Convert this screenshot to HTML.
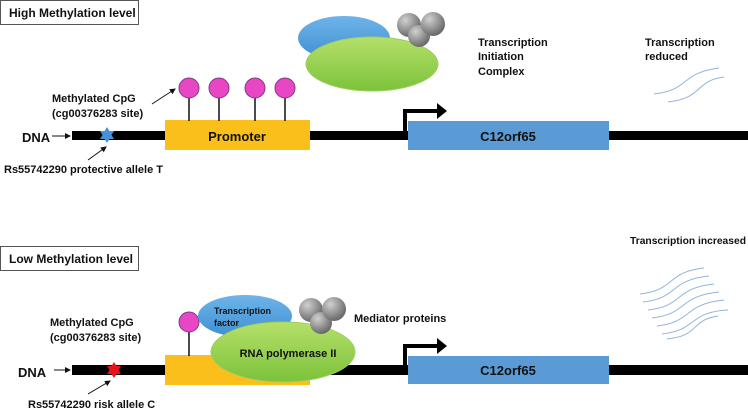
<!DOCTYPE html>
<html><head><meta charset="utf-8"><style>
body{margin:0;background:#fff;}
svg text{font-family:"Liberation Sans",sans-serif;font-weight:bold;fill:#111;}
</style></head><body>
<svg width="748" height="411" viewBox="0 0 748 411" xmlns="http://www.w3.org/2000/svg">
<defs>
<marker id="ah" markerWidth="6" markerHeight="6" refX="5" refY="3" orient="auto"><path d="M0,0 L6,3 L0,6z" fill="#111"/></marker>
<radialGradient id="gs" cx="0.35" cy="0.3" r="0.7"><stop offset="0" stop-color="#d0d0d0"/><stop offset="1" stop-color="#6a6a6a"/></radialGradient>
<linearGradient id="gg" x1="0" y1="0" x2="0" y2="1"><stop offset="0" stop-color="#b5e06a"/><stop offset="1" stop-color="#7cc23a"/></linearGradient>
<linearGradient id="bg" x1="0" y1="0" x2="0" y2="1"><stop offset="0" stop-color="#6fb4ea"/><stop offset="1" stop-color="#3f8fd0"/></linearGradient>
</defs>
<!-- TOP -->
<rect x="0.5" y="0.5" width="138" height="24" fill="#fff" stroke="#555"/>
<text x="9" y="17" font-size="12">High Methylation level</text>
<rect x="72" y="131" width="676" height="9" fill="#000"/>
<rect x="165" y="120" width="145" height="30" fill="#fbbf1c"/>
<text x="237" y="141" font-size="13" text-anchor="middle">Promoter</text>
<g stroke="#111" stroke-width="1.5"><line x1="189" y1="98" x2="189" y2="121"/><line x1="219" y1="98" x2="219" y2="121"/><line x1="255" y1="98" x2="255" y2="121"/><line x1="285" y1="98" x2="285" y2="121"/></g>
<g fill="#e846c4" stroke="#7a3a8a"><circle cx="189" cy="88" r="10"/><circle cx="219" cy="88" r="10"/><circle cx="255" cy="88" r="10"/><circle cx="285" cy="88" r="10"/></g>
<text x="52" y="102" font-size="11">Methylated CpG</text>
<text x="52" y="117" font-size="11">(cg00376283 site)</text>
<line x1="152" y1="104" x2="175" y2="89" stroke="#111" marker-end="url(#ah)"/>
<text x="22" y="142" font-size="13">DNA</text>
<line x1="52" y1="136" x2="70" y2="136" stroke="#111" marker-end="url(#ah)"/>
<polygon points="107,127 109.5,131 114,131 111.5,135 114,139 109.5,139 107,143 104.5,139 100,139 102.5,135 100,131 104.5,131" fill="#4a90d9"/>
<text x="4" y="173" font-size="11">Rs55742290 protective allele  T</text>
<line x1="88" y1="160" x2="106" y2="147" stroke="#111" marker-end="url(#ah)"/>
<ellipse cx="344" cy="38" rx="46" ry="22" fill="url(#bg)"/>
<ellipse cx="372" cy="64" rx="66" ry="27" fill="url(#gg)" stroke="#9bd060"/>
<circle cx="409" cy="25" r="12" fill="url(#gs)"/><circle cx="419" cy="36" r="11" fill="url(#gs)"/><circle cx="433" cy="24" r="12" fill="url(#gs)"/>
<text x="478" y="46" font-size="11">Transcription</text>
<text x="478" y="60" font-size="11">Initiation</text>
<text x="478" y="75" font-size="11">Complex</text>
<text x="645" y="46" font-size="11">Transcription</text>
<text x="645" y="60" font-size="11">reduced</text>
<g fill="none" stroke="#8fb4dd" stroke-width="1"><path d="M654,94 C690,90 680,73 719,68"/><path d="M668,102 C704,98 694,81 724,77"/></g>
<path d="M374,135 L405,135 L405,111 L438,111" fill="none" stroke="#000" stroke-width="4"/>
<polygon points="437,103 447,111 437,119" fill="#000"/>
<rect x="408" y="121" width="201" height="29" fill="#5b9bd5"/>
<text x="508" y="141" font-size="13" text-anchor="middle">C12orf65</text>
<!-- BOTTOM -->
<rect x="0.5" y="246.5" width="138" height="24" fill="#fff" stroke="#555"/>
<text x="9" y="263" font-size="12">Low Methylation level</text>
<rect x="72" y="365" width="676" height="10" fill="#000"/>
<rect x="165" y="355" width="145" height="30" fill="#fbbf1c"/>
<line x1="189" y1="332" x2="189" y2="356" stroke="#111" stroke-width="1.5"/>
<circle cx="189" cy="322" r="10" fill="#e846c4" stroke="#7a3a8a"/>
<ellipse cx="245" cy="316" rx="47" ry="21" fill="url(#bg)"/>
<text x="214" y="314" font-size="9" fill="#1a3a6a">Transcription</text>
<text x="214" y="326" font-size="9" fill="#1a3a6a">factor</text>
<ellipse cx="283" cy="352" rx="72" ry="30" fill="url(#gg)" stroke="#9bd060"/>
<text x="288" y="357" font-size="11" text-anchor="middle">RNA polymerase II</text>
<circle cx="311" cy="310" r="12" fill="url(#gs)"/><circle cx="321" cy="323" r="11" fill="url(#gs)"/><circle cx="334" cy="309" r="12" fill="url(#gs)"/>
<text x="354" y="322" font-size="11">Mediator proteins</text>
<text x="50" y="326" font-size="11">Methylated CpG</text>
<text x="50" y="341" font-size="11">(cg00376283 site)</text>
<text x="18" y="377" font-size="13">DNA</text>
<line x1="54" y1="370" x2="70" y2="370" stroke="#111" marker-end="url(#ah)"/>
<polygon points="114,362 116.5,366 121,366 118.5,370 121,374 116.5,374 114,378 111.5,374 107,374 109.5,370 107,366 111.5,366" fill="#e8141c"/>
<text x="28" y="408" font-size="11">Rs55742290 risk allele  C</text>
<line x1="88" y1="394" x2="110" y2="381" stroke="#111" marker-end="url(#ah)"/>
<text x="630" y="244" font-size="10.5" textLength="116" lengthAdjust="spacingAndGlyphs">Transcription increased</text>
<g fill="none" stroke="#8fb4dd" stroke-width="1">
<path d="M640,294 C676,290 666,272 704,268"/>
<path d="M643,302 C679,298 669,280 709,276"/>
<path d="M648,310 C684,306 674,288 714,284"/>
<path d="M652,318 C688,314 678,296 719,292"/>
<path d="M657,326 C693,322 683,304 724,300"/>
<path d="M662,334 C698,330 688,312 728,310"/>
<path d="M667,339 C700,336 690,320 718,316"/>
</g>
<path d="M374,370 L405,370 L405,346 L438,346" fill="none" stroke="#000" stroke-width="4"/>
<polygon points="437,338 447,346 437,354" fill="#000"/>
<rect x="408" y="356" width="201" height="28" fill="#5b9bd5"/>
<text x="508" y="375" font-size="13" text-anchor="middle">C12orf65</text>
</svg>
</body></html>
